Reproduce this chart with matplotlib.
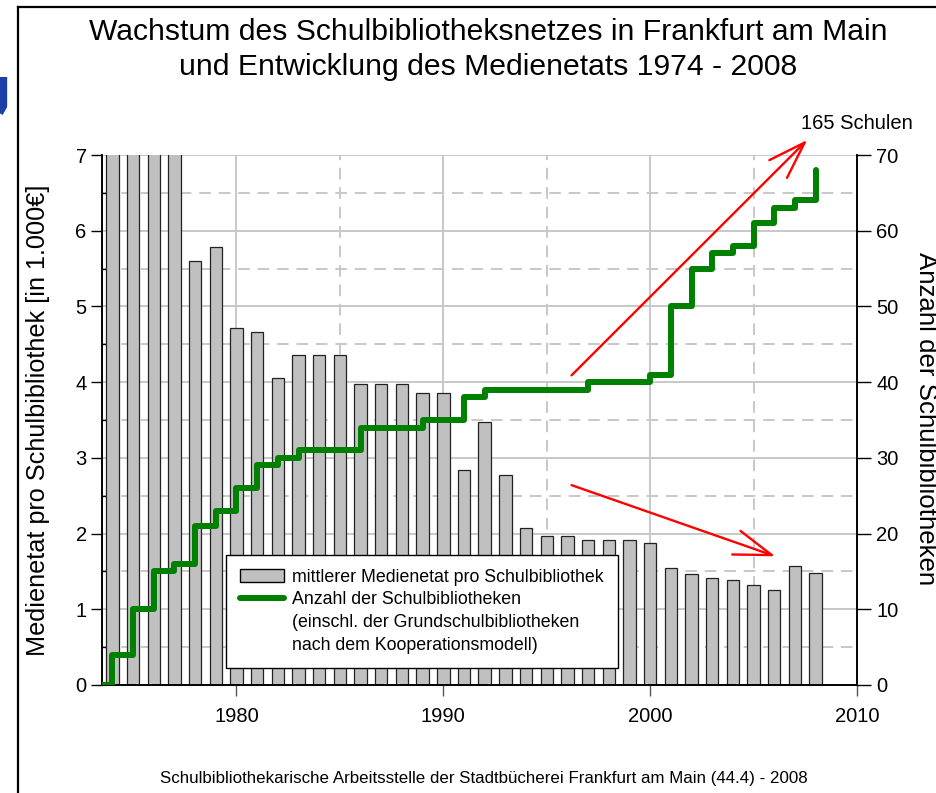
import matplotlib

matplotlib.use("Agg")
import matplotlib.pyplot as plt
from matplotlib.lines import Line2D
from matplotlib.patches import Rectangle
from matplotlib.ticker import MultipleLocator

plt.rcParams["font.family"] = ["Liberation Sans", "DejaVu Sans"]

# --- data --------------------------------------------------------------------
years = list(range(1974, 2009))
# average media budget per school library, in 1,000 EUR (first four bars run off the top)
budget = [12.0, 10.5, 9.0, 7.6, 5.60, 5.78, 4.72, 4.66, 4.05, 4.36, 4.36, 4.36,
          3.97, 3.97, 3.97, 3.86, 3.86, 2.84, 3.47, 2.78, 2.07, 1.97, 1.97, 1.92,
          1.92, 1.92, 1.88, 1.54, 1.47, 1.41, 1.39, 1.32, 1.26, 1.57, 1.48]

# number of school libraries (step line, right axis)
line_years = [1973] + years
schools = [0, 4, 10, 15, 16, 21, 23, 26, 29, 30, 31, 31, 31, 34, 34, 34, 35, 35,
           38, 39, 39, 39, 39, 39, 40, 40, 40, 41, 50, 55, 57, 58, 61, 63, 64, 68]

TITLE_1 = "Wachstum des Schulbibliotheksnetzes in Frankfurt am Main"
TITLE_2 = "und Entwicklung des Medienetats 1974 - 2008"
YLABEL_L = "Medienetat pro Schulbibliothek [in 1.000€]"
YLABEL_R = "Anzahl der Schulbibliotheken"
FOOTER = "Schulbibliothekarische Arbeitsstelle der Stadtbücherei Frankfurt am Main (44.4) - 2008"
LEG_BAR = "mittlerer Medienetat pro Schulbibliothek"
LEG_LINE = ["Anzahl der Schulbibliotheken",
            "(einschl. der Grundschulbibliotheken",
            "nach dem Kooperationsmodell)"]

C_BAR = "#C0C0C0"
C_LINE = "#008000"
C_GRID = "#C8C8C8"

W, H = 937, 793
fig = plt.figure(figsize=(W / 100, H / 100), dpi=100)
ax = fig.add_axes([102 / W, 1 - 685 / H, 755 / W, 530 / H])
ax2 = ax.twinx()

# grid: solid at majors, dashed at the halves
ax.set_axisbelow(True)
for v in range(1, 8):
    ax.axhline(v, color=C_GRID, lw=1.4, zorder=0)
for v in [0.5, 1.5, 2.5, 3.5, 4.5, 5.5, 6.5]:
    ax.axhline(v, color=C_GRID, lw=1.4, ls=(0, (6, 4)), zorder=0)
for yr in [1980, 1990, 2000]:
    ax.axvline(yr, color=C_GRID, lw=1.4, zorder=0)
for yr in [1985, 1995, 2005]:
    ax.axvline(yr, color=C_GRID, lw=1.4, ls=(0, (6, 4)), zorder=0)

ax.bar(years, budget, width=0.6, color=C_BAR, edgecolor="#222222", lw=0.9, zorder=2)
ax.set_xlim(1973.5, 2010)
ax.set_ylim(0, 7)
ax.yaxis.set_major_locator(MultipleLocator(1))
ax.yaxis.set_minor_locator(MultipleLocator(0.5))
ax.set_xticks([1980, 1990, 2000, 2010])
ax.tick_params(axis="y", which="major", direction="out", length=8, width=1, labelsize=14.5, pad=3)
ax.tick_params(axis="y", which="minor", direction="in", length=4, width=1)
ax.tick_params(axis="x", direction="out", length=8, width=1, color="#555555", labelsize=14.5, pad=8)

ax2.step(line_years, schools, where="post", color=C_LINE, lw=4.3,
         solid_capstyle="round", solid_joinstyle="round", zorder=3)
ax2.set_ylim(0, 70)
ax2.yaxis.set_major_locator(MultipleLocator(10))
ax2.tick_params(axis="y", direction="out", length=10, width=1, labelsize=14.5, pad=4)

for a in (ax, ax2):
    a.spines["top"].set_visible(False)
    for s in ("left", "right", "bottom"):
        a.spines[s].set_linewidth(1.2)
        a.spines[s].set_color("black")

# red trend arrows
arrow = dict(arrowstyle="->,head_length=1.35,head_width=0.45", color="red", lw=1.7,
             shrinkA=0, shrinkB=0, mutation_scale=20)
ax.annotate("", xy=(2007.6, 7.2), xytext=(1996.2, 4.09), arrowprops=arrow,
            annotation_clip=False, zorder=5)
ax.annotate("", xy=(2006.05, 1.70), xytext=(1996.2, 2.64), arrowprops=arrow, zorder=5)
ax.text(2010.0, 7.41, "165 Schulen", ha="center", va="center", fontsize=14.5, clip_on=False)

# legend: continuation lines get empty handles so the line swatch sits on row two
handles = [Rectangle((0, 0), 1, 1, facecolor=C_BAR, edgecolor="black", lw=1),
           Line2D([], [], color=C_LINE, lw=4.3, solid_capstyle="round"),
           Line2D([], [], color="none"), Line2D([], [], color="none")]
labels = [LEG_BAR] + LEG_LINE
leg = ax2.legend(handles, labels, loc="lower left", bbox_to_anchor=(0.164, 0.032),
                 fontsize=12.8, frameon=True, fancybox=False, framealpha=1,
                 edgecolor="black", handlelength=2.5, handletextpad=0.45,
                 labelspacing=0.32, borderpad=0.8, borderaxespad=0)
leg.get_frame().set_linewidth(1.0)
leg.set_zorder(10)

# titles and axis labels
fig.text(488 / W, 1 - 32 / H, TITLE_1, ha="center", va="center", fontsize=21.7)
fig.text(488 / W, 1 - 67 / H, TITLE_2, ha="center", va="center", fontsize=21.7)
fig.text(38 / W, 1 - 420 / H, YLABEL_L, ha="center", va="center", rotation=90, fontsize=18.2)
fig.text(926 / W, 1 - 419 / H, YLABEL_R, ha="center", va="center", rotation=-90, fontsize=18.6)
fig.text(484 / W, 1 - 778 / H, FOOTER, ha="center", va="center", fontsize=12.2)

# frame remnants of the original page
fig.add_artist(Line2D([18 / W, 18 / W], [0, 1 - 7 / H], color="black", lw=1.6))
fig.add_artist(Line2D([18 / W, 1], [1 - 7 / H, 1 - 7 / H], color="black", lw=1.6))
fig.add_artist(Line2D([3 / W, 3 / W, -4 / W], [1 - 77 / H, 1 - 106 / H, 1 - 118 / H],
                      color="#1b3fa6", lw=6, solid_capstyle="butt"))

fig.savefig("out.png", dpi=100)
